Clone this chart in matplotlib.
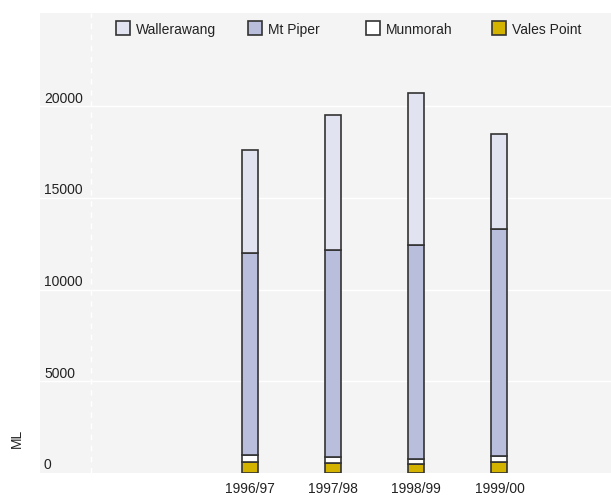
import matplotlib
matplotlib.use("Agg")
import matplotlib.pyplot as plt
from matplotlib.patches import Rectangle
import matplotlib.transforms as mtransforms
import numpy as np

plt.rcParams['font.family'] = ['Liberation Sans', 'DejaVu Sans']

years = ["1996/97", "1997/98", "1998/99", "1999/00"]
vales_point = [600, 550, 470, 570]
munmorah = [350, 290, 290, 360]
mt_piper = [11030, 11310, 11660, 12400]
wallerawang = [5620, 7370, 8290, 5160]

series = [
    ("Vales Point", vales_point, "#D4B300"),
    ("Munmorah", munmorah, "#FFFFFF"),
    ("Mt Piper", mt_piper, "#B8BEDC"),
    ("Wallerawang", wallerawang, "#E1E3F1"),
]
y_ticks = [0, 5000, 10000, 15000, 20000]

W, H = 611, 495
fig = plt.figure(figsize=(W / 100, H / 100), dpi=100)
ax = fig.add_axes([40 / W, 1 - 472.7 / H, 1 - 40 / W, (472.7 - 13) / H])
ax.set_facecolor("#F4F4F4")
for s in ax.spines.values():
    s.set_visible(False)

x = np.arange(len(years))
bottom = np.zeros(len(years))
for name, vals, col in series:
    ax.bar(x, vals, width=0.192, bottom=bottom, color=col,
           edgecolor="#333333", linewidth=1.2, zorder=3)
    bottom += np.array(vals)

ax.set_xlim(-2.52, 4.34)
ax.set_ylim(0, 25100)
for t in y_ticks[1:]:
    ax.axhline(t, color="white", linewidth=1.0, zorder=1)
ax.axvline(-1.908, color="white", linewidth=1.0, linestyle=(0, (4, 4)), zorder=1)

ax.set_yticks([])
ax.set_xticks(x)
ax.set_xticklabels(years, fontsize=10, color="#222222")
ax.tick_params(axis="x", length=0, pad=6.5)

trans = mtransforms.blended_transform_factory(ax.transAxes, ax.transData)
for t in y_ticks:
    ax.text(4 / (W - 40), t + 30, f"{t}", transform=trans, ha="left", va="bottom",
            fontsize=10, color="#222222")

fig.text(17 / W, 1 - 438 / H, "ML", rotation=90, ha="center", va="center",
         fontsize=10, color="#222222")

legend_items = [("Wallerawang", "#E1E3F1", 116),
                ("Mt Piper", "#B8BEDC", 248),
                ("Munmorah", "#FFFFFF", 366),
                ("Vales Point", "#D4B300", 492)]
for name, col, px in legend_items:
    fig.patches.append(Rectangle((px / W, 1 - 34.5 / H), 14 / W, 14 / H,
                                 transform=fig.transFigure, facecolor=col,
                                 edgecolor="#333333", linewidth=1.2, zorder=5))
    fig.text((px + 20) / W, 1 - 30 / H, name, ha="left", va="center",
             fontsize=10, color="#222222")

fig.savefig("out.png", dpi=100)
